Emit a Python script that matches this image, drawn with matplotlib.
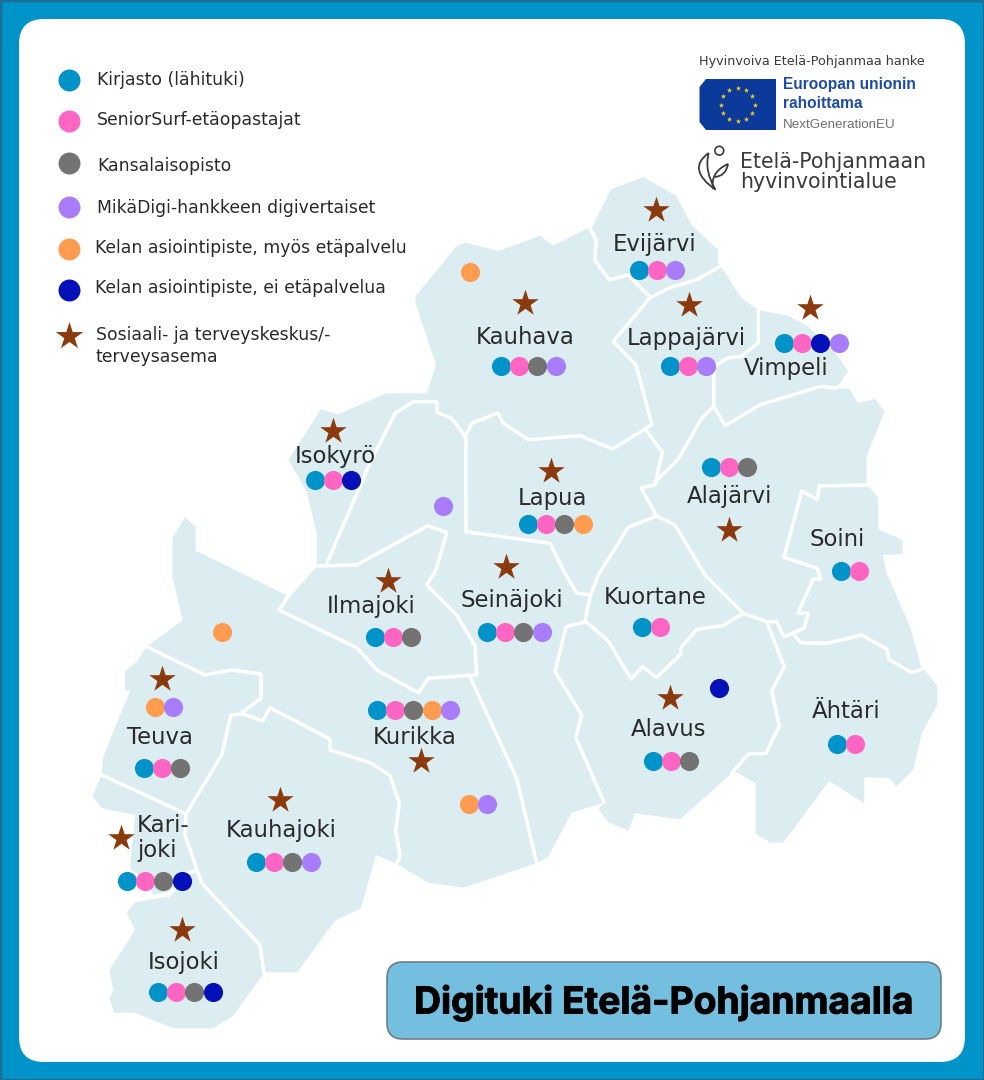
import numpy as np
import matplotlib
matplotlib.use("Agg")
import matplotlib.pyplot as plt
import matplotlib.patheffects as pe
from matplotlib.patches import FancyBboxPatch, Polygon, Circle, PathPatch
from matplotlib.path import Path

# service colours, same order as the legend
SERVICE_NAMES = [
    "Kirjasto (lähituki)",
    "SeniorSurf-etäopastajat",
    "Kansalaisopisto",
    "MikäDigi-hankkeen digivertaiset",
    "Kelan asiointipiste, myös etäpalvelu",
    "Kelan asiointipiste, ei etäpalvelua",
]
SERVICE_COLORS = {"K": "#0093C9", "S": "#FF66C4", "G": "#737373",
                  "D": "#A97CFC", "O": "#FF9C50", "B": "#0511B8"}
STAR_LEGEND = "Sosiaali- ja terveyskeskus/-\nterveysasema"
STAR_COLOR = "#8B3A0E"

# services per municipality
MUNICIPALITIES = ["Evijärvi", "Kauhava", "Lappajärvi", "Vimpeli", "Alajärvi", "Isokyrö",
                  "Lapua", "Ilmajoki", "Seinäjoki", "Soini", "Kuortane", "Alavus",
                  "Ähtäri", "Teuva", "Kurikka", "Kauhajoki", "Kari-\njoki", "Isojoki"]
SERVICES = ["KSD", "KSGD", "KSD", "KSBD", "KSG", "KSB",
            "KSGO", "KSG", "KSGD", "KS", "KS", "KSG",
            "KS", "KSG", "KSGOD", "KSGD", "KSGB", "KSGB"]
# points outside the main row
EXTRA_SERVICES = ["O", "D", "O", "B", "OD", "OD"]

# layout, in pixels of the 984x1080 picture
LABEL_XY = [(655, 245), (525, 338), (686, 338), (786, 368), (730, 496), (335, 456),
            (552, 499), (371, 607), (512, 600), (837, 539), (655, 598), (669, 729),
            (846, 711), (160, 738), (415, 737), (281, 830), (137, 838), (184, 963)]
ROW_XY = [(639, 270), (501, 366), (670, 366), (784, 343), (711, 467), (315, 480),
          (528, 524), (375, 637), (487, 632), (841, 571), (642, 627), (653, 761),
          (837, 744), (144, 768), (377, 710), (256, 862), (127, 881), (158, 992)]
STAR_XY = [(656, 210), (525, 303), (689, 305), (810, 308), (729, 530), (333, 431),
           (551, 471), (388, 581), (506, 567), (670, 698), (162, 679), (421, 761),
           (280, 800), (121, 838), (182, 930)]
EXTRA_XY = [(470, 272), (443, 506), (222, 632), (719, 688), (155, 707), (469, 804)]
LEGEND_Y = [80, 121, 163, 207, 249, 290]
LEGEND_TEXT_XY = [(97, 80), (97, 120), (97, 166), (97, 208), (95, 248), (95, 288)]

OUTLINE = [
    (415.4, 296.5), (456.6, 246), (466, 242.6), (498.4, 251), (540, 235.6), (553.3, 245.6),
    (589.3, 227.3), (592, 227), (611, 189.3), (643.5, 177.3), (676, 195.6), (691.6, 225),
    (718, 250), (718, 263), (720.7, 266), (741.3, 298), (758.4, 310), (787.6, 315.5),
    (808, 326.5), (835.6, 353), (848.3, 371.5), (836.3, 388), (849.3, 388.8), (858, 403),
    (875, 399), (884.7, 411.4), (866.5, 456.4), (866.5, 484.7), (868, 485), (878.3, 498.3),
    (878.3, 529.3), (902.7, 540), (902.7, 554), (882.7, 555), (886.7, 573.3), (910, 626.7),
    (921.7, 668.3), (924, 669.3), (937.3, 685.7), (937.3, 705), (921.7, 733.3), (913.3, 770),
    (896, 786.7), (890, 778.3), (864.3, 777.3), (864.3, 803.3), (829, 781), (783.3, 842.7),
    (770.7, 842.7), (755.7, 834), (755.7, 783.3), (737.3, 772.7), (731.7, 773.3), (680, 819.3),
    (635, 813.3), (628.3, 830.7), (608.3, 822.3), (598.3, 809), (603.3, 802.7), (571.7, 812.7),
    (548.3, 856.7), (536.7, 863.3), (463.3, 887.7), (428.3, 882.7), (396.7, 864), (376, 855),
    (361, 908.3), (335, 920.7), (297.3, 972.3), (266.7, 972.3), (264, 973.3), (232.7, 1016),
    (212.7, 1028.3), (173.3, 1028.3), (135, 1012.7), (114, 1012.7), (109.3, 998.3), (113.3, 990),
    (109.3, 970), (135, 930), (126.7, 912.3), (135, 902.3), (168.3, 896.7), (170, 891.7),
    (153.3, 895), (148.3, 883), (130, 868.3), (135, 815), (101.7, 808.3), (92.3, 796),
    (101.7, 775), (102.7, 758.3), (130, 690.7), (125, 690.7), (125, 671.7), (136.7, 661.7),
    (146.7, 646.7), (182.7, 620), (172.3, 576.7), (172.3, 538.3), (185, 517.3), (195.7, 526.7),
    (195.7, 550.7), (288.3, 596), (316.7, 564), (316.7, 533.3), (306.7, 491.7), (288.3, 460),
    (321, 409.3), (338.3, 414.3), (386, 393.3), (426.7, 393.3), (436, 364.8), (415.4, 303),
]

BORDERS = [
    [(589.3, 227.3), (596.2, 240), (594.8, 260), (609.2, 280), (628, 275), (649.7, 296.5)],
    [(720.7, 266), (698.4, 279), (669.3, 288), (649.7, 298)],
    [(649.7, 298), (613.3, 341.5), (636, 365), (652, 424.7), (612.7, 449), (580, 435.7),
     (528.6, 439.7), (503, 423), (497.8, 413), (472, 423), (465, 436.4)],
    [(646.3, 430.4), (662.4, 452.4), (655.5, 481.4), (677.8, 459.7), (701.8, 418), (713.8, 406.4)],
    [(758.4, 310), (758.4, 342.5), (741.3, 356.5), (727.6, 358), (713.8, 366.5), (713.8, 406.4)],
    [(713.8, 406.4), (725.2, 425.7), (760, 404.8), (820.2, 386.5), (836.3, 388)],
    [(655.5, 481.4), (655.5, 484.7), (641, 488), (656.7, 516)],
    [(656.7, 516), (628.3, 527.3), (598.3, 575), (590, 596.7), (585, 620.7)],
    [(656.7, 516), (675, 525), (705, 575), (743.3, 613.3)],
    [(743.3, 613.3), (722.7, 625.7), (696.7, 629.3), (681, 647.7), (681, 654), (656.7, 677.3),
     (642.7, 666.7), (631, 679), (608.3, 641), (586, 621.7)],
    [(586, 621.7), (566, 626.7), (555, 671.7), (581.7, 715), (575.7, 737.3), (604, 802.3)],
    [(743.3, 613.3), (766.7, 621.7), (784.3, 666.7), (771.7, 690.7), (779.3, 725.7), (766, 753.3),
     (748.3, 754), (731.7, 773.3)],
    [(868.3, 485), (819.3, 486), (817.3, 499.3), (801.7, 491), (784, 557.3), (817.3, 568.3),
     (820.7, 579), (813.3, 579), (797.7, 613.3), (808.3, 613.3), (804, 628.3), (784, 636.7),
     (776.7, 621.7), (766.7, 621.7)],
    [(793.3, 634), (800.7, 642.7), (826.7, 643.3), (861.7, 635), (886.7, 649), (889, 659.3),
     (911.7, 672.7), (924, 668.3)],
    [(466, 438.3), (466, 531.7), (550, 543.3), (565, 573.3), (576.7, 593), (589.3, 595)],
    [(326.7, 564), (370, 463), (395, 413.3), (413.3, 401.7), (436.7, 401.7), (437.3, 412.3),
     (451.7, 418.3), (466, 437.3)],
    [(288.3, 596), (315, 566), (356.7, 565), (427.7, 525.7), (446.7, 532.3), (436, 570),
     (426.7, 585), (456.7, 615), (475, 645.7), (476.7, 675), (428.3, 678.3), (418.3, 692.7),
     (376.7, 670), (356.7, 647.7), (279, 610), (288.3, 596)],
    [(470, 676.7), (516.7, 778.3), (536.7, 863.3)],
    [(146.7, 646.7), (205, 675), (231, 670), (261, 674), (261, 698.3), (241, 713.3), (262.7, 721),
     (270, 707.7), (330, 739), (330, 750), (371.7, 763.3), (390, 775.7), (399.3, 803.3),
     (395.7, 830), (400, 856.7), (396.7, 863.3)],
    [(241, 714), (231, 715), (221.7, 755), (186, 814)],
    [(101.7, 775), (186, 814)],
    [(186, 814), (185, 835), (201.7, 883.3), (260, 945), (264, 973.3)],
    [(195, 870.7), (178, 876)],
    [(168, 896), (175, 888), (182, 880)],
]

FRAME_COLOR = "#0093C9"
MAP_COLOR = "#DCEDF2"
TEXT_COLOR = "#2A2A2A"
FONT = "DejaVu Sans"


def star_scatter(ax, xy, size=400):
    xs, ys = zip(*xy)
    ax.scatter(xs, ys, s=size, marker="*", color=STAR_COLOR, linewidths=0, zorder=6)


def dot_row(ax, x, y, codes):
    for i, code in enumerate(codes):
        ax.scatter(x + i * 18.2, y, s=190, color=SERVICE_COLORS[code], linewidths=0, zorder=6 + i * 0.01)


fig = plt.figure(figsize=(9.84, 10.8), dpi=100)
ax = fig.add_axes([0, 0, 1, 1])
ax.set_xlim(0, 984)
ax.set_ylim(1080, 0)
ax.axis("off")

# frame and white card
ax.add_patch(plt.Rectangle((0, 0), 984, 1080, facecolor=FRAME_COLOR, edgecolor="#1C6E92", linewidth=2.5))
ax.add_patch(FancyBboxPatch((44, 44), 896, 993, boxstyle="round,pad=25,rounding_size=25",
                            facecolor="white", edgecolor="none", zorder=1))

# map
ax.add_patch(Polygon(OUTLINE, closed=True, facecolor=MAP_COLOR, edgecolor="none", zorder=2))
for line in BORDERS:
    xs, ys = zip(*line)
    ax.plot(xs, ys, color="white", lw=2.5, solid_joinstyle="round", solid_capstyle="round", zorder=3)

# municipality labels and service rows
for name, serv, (lx, ly), (rx, ry) in zip(MUNICIPALITIES, SERVICES, LABEL_XY, ROW_XY):
    ha = "left" if "\n" in name else "center"
    ax.text(lx, ly, name, ha=ha, va="center", fontsize=16.4, family=FONT,
            color=TEXT_COLOR, linespacing=1.1, zorder=5)
    dot_row(ax, rx, ry, serv)

for codes, (ex, ey) in zip(EXTRA_SERVICES, EXTRA_XY):
    dot_row(ax, ex, ey, codes)

star_scatter(ax, STAR_XY)

# legend
for name, y, (tx, ty), code in zip(SERVICE_NAMES, LEGEND_Y, LEGEND_TEXT_XY, "KSGDOB"):
    ax.scatter(69, y, s=250, color=SERVICE_COLORS[code], linewidths=0, zorder=6)
    ax.text(tx, ty, name, ha="left", va="center", fontsize=12.4, family=FONT, color=TEXT_COLOR)
star_scatter(ax, [(69, 336)], size=430)
ax.text(96, 346, STAR_LEGEND, ha="left", va="center", fontsize=12.4, family=FONT,
        color=TEXT_COLOR, linespacing=1.35)

# title box
ax.add_patch(FancyBboxPatch((401, 976), 526, 49, boxstyle="round,pad=14,rounding_size=16",
                            facecolor="#74BFDF", edgecolor="#6E7E88", linewidth=1.2, zorder=5))
ax.text(664, 1003, "Digituki Etelä-Pohjanmaalla", ha="center", va="center", fontsize=26.8,
        family="Inter", weight="bold", color="black", zorder=6,
        path_effects=[pe.withStroke(linewidth=0.7, foreground="black")])

# logos
ax.text(699, 61, "Hyvinvoiva Etelä-Pohjanmaa hanke", ha="left", va="center", fontsize=9.2,
        family=FONT, color="#3A3A3A")
ax.add_patch(Polygon([(706, 79), (776, 79), (776, 130), (706, 130), (699.5, 122), (699.5, 87)],
                     closed=True, facecolor="#0B3A9B", edgecolor="none", zorder=4))
angles = np.deg2rad(np.arange(0, 360, 30))
ax.scatter(737.8 + 16.7 * np.cos(angles), 104.5 + 16.7 * np.sin(angles), s=16, marker="*",
           color="#FFD31A", linewidths=0, zorder=5)
ax.text(783, 85, "Euroopan unionin", ha="left", va="center", fontsize=11.2,
        family="Liberation Sans", weight="bold", color="#1D4BA6")
ax.text(783, 104, "rahoittama", ha="left", va="center", fontsize=11.2,
        family="Liberation Sans", weight="bold", color="#1D4BA6")
ax.text(783, 125, "NextGenerationEU", ha="left", va="center", fontsize=9.6,
        family="Liberation Sans", color="#6F6F6F")

ax.add_patch(Circle((719.3, 150.7), 4.4, facecolor="none", edgecolor="#3C3C3C", linewidth=1.2))
leaves = [
    [(708.7, 153), (686, 169), (715.5, 189.7), (704, 171), (708.7, 153)],
    [(713, 189), (710, 172), (728, 164), (726, 176), (715, 177)],
]
for pts in leaves:
    codes = [Path.MOVETO] + [Path.CURVE3] * (len(pts) - 1)
    ax.add_patch(PathPatch(Path(pts, codes), facecolor="none", edgecolor="#3C3C3C", linewidth=1.3))
ax.text(740, 162, "Etelä-Pohjanmaan", ha="left", va="center", fontsize=14.8, family=FONT, color="#3A3A3A")
ax.text(740, 182, "hyvinvointialue", ha="left", va="center", fontsize=14.8, family=FONT, color="#3A3A3A")

fig.savefig("out.png", dpi=100)
